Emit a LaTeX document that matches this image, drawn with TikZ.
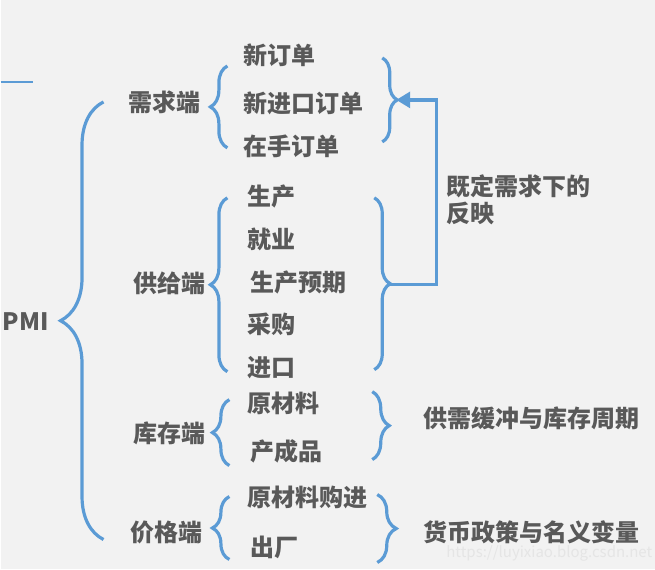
\documentclass[tikz,border=0pt]{standalone}
\usepackage{fontspec}
\setmainfont{Noto Sans CJK SC}
\newfontfamily\heavycjk{Noto Sans CJK SC Black}
\usetikzlibrary{decorations.pathreplacing,arrows.meta}
\definecolor{bracecol}{HTML}{5B9BD5}
\definecolor{txtcol}{HTML}{595959}
\definecolor{bgcol}{HTML}{F2F2F2}
\tikzset{
    txt/.style={text=txtcol,font=\heavycjk\fontsize{24}{27}\selectfont,inner sep=0pt,anchor=west,align=left},
    curly/.style={draw=bracecol,line width=3.2pt,decorate,decoration={brace,amplitude=#1}},
    backarrow/.style={draw=bracecol,line width=3.2pt,-{Triangle[length=14pt,width=16pt]}},
}
\begin{document}
\begin{tikzpicture}[x=1pt,y=-1pt]
    \fill[bgcol] (0,0) rectangle (655,570);
    \draw[bracecol,line width=1.2pt] (0,82) -- (32,82);
    \node[txt] (pmi) at (2,322) {PMI};
    % four sides
    \foreach \n/\x/\y/\t in {xq/128/102/需求端,gj/133/284/供给端,kc/133/434/库存端,jg/130/533/价格端} {
        \node[txt] (\n) at (\x,\y) {\t};
    }
    % items
    \foreach \n/\x/\y/\t in {xdd/243/55/新订单,jkdd/243/103/新进口订单,zsdd/243/146/在手订单,
        sc/247/197/生产,jy/247/240/就业,scyq/250/283/生产预期,cg/247/325/采购,jk/247/368/进口,
        ycl/247/404/原材料,ccp/250/452/产成品,yclgj/247/498/原材料购进,cc/250/548/出厂} {
        \node[txt] (\n) at (\x,\y) {\t};
    }
    \node[txt] (fy) at (446,200) {既定需求下的\\反映};
    \node[txt] (gq) at (423,419) {供需缓冲与库存周期};
    \node[txt] (hb) at (423,533) {货币政策与名义变量};
    \node[anchor=west,inner sep=0pt,text=white!80!gray,font=\fontsize{15}{15}\selectfont] (wm) at (446,554) {https://luyixiao.blog.csdn.net};
    % brace ends
    \coordinate (pmi-a) at (103,540);  \coordinate (pmi-b) at (103,102);
    \coordinate (xq-a) at (227,148);   \coordinate (xq-b) at (227,66);
    \coordinate (gj-a) at (227,372);   \coordinate (gj-b) at (227,198);
    \coordinate (kc-a) at (229,466);   \coordinate (kc-b) at (229,400);
    \coordinate (jg-a) at (229,560);   \coordinate (jg-b) at (229,497);
    \coordinate (xq-c) at (382,58);    \coordinate (xq-d) at (382,142);
    \coordinate (gj-c) at (374,198);   \coordinate (gj-d) at (374,370);
    \coordinate (kc-c) at (372,392);   \coordinate (kc-d) at (372,460);
    \coordinate (jg-c) at (377,495);   \coordinate (jg-d) at (377,563);
    \draw[curly=43pt] (pmi-a) -- (pmi-b);
    \foreach \p in {xq,gj,kc,jg} {
        \draw[curly=17pt] (\p-a) -- (\p-b);
    }
    \draw[curly=15pt] (xq-c) -- (xq-d);
    \draw[curly=16pt] (gj-c) -- (gj-d);
    \draw[curly=17pt] (kc-c) -- (kc-d);
    \draw[curly=19pt] (jg-c) -- (jg-d);
    % feedback arrow
    \coordinate (gj-tip) at (390,285);
    \coordinate (xq-tip) at (396,100);
    \draw[backarrow] (gj-tip) -- (436,285) |- (xq-tip);
\end{tikzpicture}
\end{document}
